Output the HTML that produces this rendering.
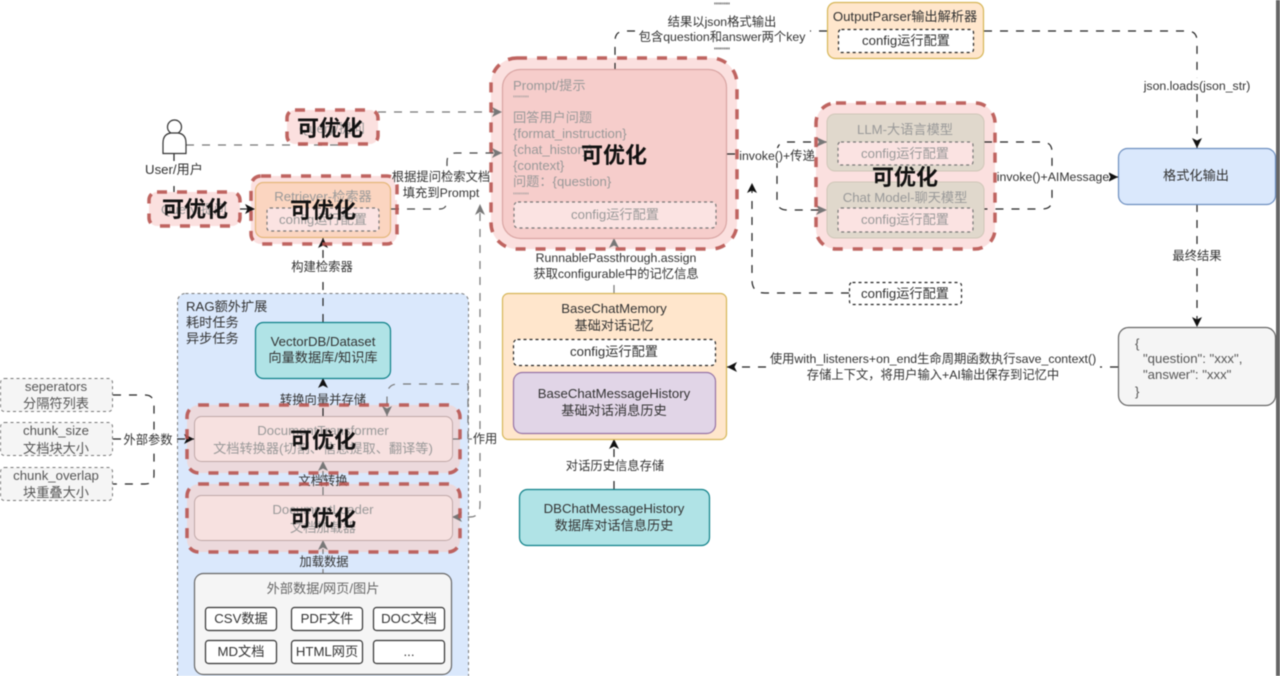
<!DOCTYPE html>
<html><head><meta charset="utf-8">
<style>
html,body{margin:0;padding:0;background:#fff;width:1280px;height:676px;overflow:hidden}
svg{display:block;filter:blur(.4px)}
text{font-family:"Liberation Sans","Noto Sans CJK SC",sans-serif;font-size:13.2px;fill:#333;text-anchor:middle}
text.t{font-size:12.3px}
.l{text-anchor:start}
.g{fill:#999}
text.big{font-size:22px;font-weight:bold;fill:#111}
.e{fill:none;stroke:#222;stroke-width:1.2;stroke-dasharray:8 8}
.eg{fill:none;stroke:#777;stroke-width:1.2;stroke-dasharray:8 8}
.c{fill:#fff;stroke:#222;stroke-width:1.2;stroke-dasharray:3 3}
.cp{fill:#fbe3e2;stroke:#777;stroke-width:1.2;stroke-dasharray:3 3}
.h{fill:none;stroke:#b85450;stroke-opacity:.9;stroke-width:3.5;stroke-dasharray:10 10}
.hf{fill:#fbe0df}
.lb{fill:#fff}
</style></head><body>
<svg width="1280" height="676" viewBox="0 0 1280 676" xmlns="http://www.w3.org/2000/svg">
<defs>
<marker id="a" markerUnits="userSpaceOnUse" markerWidth="11" markerHeight="11" refX="10" refY="5.500" orient="auto"><path d="M0,0.500L10,5.500L0,10.500L2.500,5.500Z" fill="#111"/></marker>
<marker id="b" markerUnits="userSpaceOnUse" markerWidth="11" markerHeight="11" refX="10" refY="5.500" orient="auto"><path d="M0,0.500L10,5.500L0,10.500L2.500,5.500Z" fill="#777"/></marker>
</defs>
<rect width="1280" height="676" fill="#fff"/>
<rect x="1276" y="0" width="4" height="676" fill="#666"/>

<!-- RAG group -->
<rect x="177.500" y="293.500" width="291" height="390" rx="8" fill="#dae8fc" stroke="#777" stroke-dasharray="3 3"/>
<text class="l" x="186" y="311">RAG额外扩展</text>
<text class="l" x="186" y="327">耗时任务</text>
<text class="l" x="186" y="343">异步任务</text>

<!-- highlight fills -->
<rect class="hf" x="491" y="58" width="246" height="191" rx="26"/>
<rect class="hf" x="816" y="103" width="179" height="146" rx="20"/>
<rect class="hf" x="251" y="176" width="146" height="68" rx="10"/>
<rect class="hf" x="287" y="110" width="91" height="34" rx="8"/>
<rect class="hf" x="149" y="192" width="91" height="34" rx="8"/>
<rect x="187" y="405" width="273" height="68" rx="12" fill="#ecd9dc"/>
<rect x="187" y="484" width="273" height="68" rx="12" fill="#ecd9dc"/>

<!-- connectors -->
<path class="e" d="M323,322V238" marker-end="url(#a)"/>
<path class="eg" d="M186,145H340"/>
<path class="eg" d="M378,112H502" marker-end="url(#b)"/>
<path class="e" d="M174,154V192"/>
<path class="e" d="M240,209H255" marker-end="url(#a)"/>
<path class="e" d="M391,209H440Q447,209 447,200V162Q447,153 456,153H502" style="stroke:#444" marker-end="url(#b)"/>
<path class="e" d="M323,416V378" marker-end="url(#a)"/>
<path class="eg" d="M323,495V461" marker-end="url(#b)"/>
<path class="eg" d="M323,573V540" marker-end="url(#b)"/>
<path class="e" d="M113,395H145Q154,395 154,405V475Q154,484 145,484H113"/>
<path class="e" d="M113,439H194" marker-end="url(#a)"/>
<path class="eg" d="M480,213V505Q480,517 470,517H452" marker-end="url(#b)"/>
<path d="M480,204l-5,11l5,-3l5,3Z" fill="#777"/>
<path class="eg" d="M452,439H480"/>
<path class="eg" d="M468,439V384H398Q387,384 387,396V416" marker-end="url(#b)"/>
<path class="eg" d="M614,293V238" marker-end="url(#b)"/>
<path class="e" d="M849,293H765Q752,293 752,280V183" marker-end="url(#a)"/>
<path class="e" d="M727,154H777"/>
<path class="e" d="M827,142H787Q777,142 777,152V200Q777,210 787,210H827"/>
<path d="M827,142l-11,-5l3,5l-3,5Z" fill="#777"/>
<path d="M827,210l-11,-5l3,5l-3,5Z" fill="#777"/>
<path class="e" d="M984,142H1042Q1052,142 1052,152V200Q1052,209 1042,209H984"/>
<path class="e" d="M1052,177H1118" marker-end="url(#a)"/>
<path class="e" d="M984,31H1187Q1197,31 1197,41V148" marker-end="url(#a)"/>
<path class="e" d="M827,31H625Q615,31 615,41V69"/>
<path class="e" d="M1197,204V327" marker-end="url(#a)"/>
<path class="e" d="M1118,367H727" marker-end="url(#a)"/>
<path class="e" d="M614,489V439" marker-end="url(#a)"/>

<!-- user -->
<circle cx="174.500" cy="127" r="7" fill="#fff" stroke="#333" stroke-width="1.200"/>
<path d="M163,153.500V143Q163,134 171,133H178Q186,134 186,143V153.500Z" fill="#fff" stroke="#333" stroke-width="1.200"/>
<rect class="lb" x="142" y="161" width="64" height="17"/>
<text x="174" y="174">User/用户</text>

<!-- Output parser -->
<rect x="827.500" y="2.500" width="156" height="56" rx="8" fill="#ffe6cc" stroke="#d6b656" stroke-width="1.200"/>
<text x="905" y="21">OutputParser输出解析器</text>
<rect class="c" x="838.500" y="29.500" width="135" height="23" rx="3"/>
<text x="906" y="45">config运行配置</text>

<!-- Prompt -->
<rect x="502.500" y="69.500" width="224" height="169" rx="18" fill="#f6cdcb" stroke="#d9a5a3" stroke-width="1.200"/>
<text class="l g" x="513" y="90">Prompt/提示</text>
<text class="l g" x="513" y="102" style="font-size:9px">"""""</text>
<text class="l g" x="513" y="122">回答用户问题</text>
<text class="l g" x="513" y="138">{format_instruction}</text>
<text class="l g" x="513" y="154">{chat_history}</text>
<text class="l g" x="513" y="170">{context}</text>
<text class="l g" x="513" y="186">问题：{question}</text>
<text class="l g" x="513" y="199" style="font-size:9px">"""""</text>
<rect class="cp" x="514" y="202" width="202" height="26" rx="4"/>
<text class="g" x="615" y="219">config运行配置</text>

<!-- LLM -->
<rect x="827" y="114" width="157" height="57" rx="8" fill="#e0d8cc" stroke="#cfc7b8"/>
<text class="g" x="905" y="134">LLM-大语言模型</text>
<rect class="cp" x="838" y="142" width="135" height="23" rx="3"/>
<text class="g" x="905" y="158">config运行配置</text>
<rect x="827" y="182" width="157" height="56" rx="8" fill="#e0d8cc" stroke="#cfc7b8"/>
<text class="g" x="905" y="202">Chat Model-聊天模型</text>
<rect class="cp" x="838" y="208" width="135" height="24" rx="3"/>
<text class="g" x="905" y="224">config运行配置</text>

<!-- Retriever -->
<rect x="255.500" y="182.500" width="135" height="55" rx="8" fill="#fbd5c0" stroke="#e5b77a" stroke-width="1.200"/>
<text class="g" x="323" y="201">Retriever-检索器</text>
<rect class="cp" x="267" y="208" width="112" height="23" rx="3"/>
<text class="g" x="323" y="224">config运行配置</text>

<!-- query boxes -->
<text class="g" x="332" y="133">Query/提问</text>
<text class="g" x="194" y="214">Query/提问</text>

<!-- VectorDB -->
<rect x="255.500" y="322.500" width="135" height="56" rx="8" fill="#b0e3e6" stroke="#0e8088" stroke-width="1.200"/>
<text x="323" y="346">VectorDB/Dataset</text>
<text x="323" y="362">向量数据库/知识库</text>

<!-- Doc boxes -->
<rect x="194.500" y="416.500" width="258" height="45" rx="7" fill="#f7e1e0" stroke="#c0a8a8"/>
<text class="g" x="323" y="435">DocumentTransformer</text>
<text class="g" x="323" y="453">文档转换器(切割、信息提取、翻译等)</text>
<rect x="194.500" y="495.500" width="258" height="45" rx="7" fill="#f7e1e0" stroke="#c0a8a8"/>
<text class="g" x="323" y="514">DocumentLoader</text>
<text class="g" x="323" y="532">文档加载器</text>

<!-- external -->
<rect x="194.500" y="573.500" width="257" height="101" rx="9" fill="#f5f5f5" stroke="#666" stroke-width="1.200"/>
<text x="323" y="593" style="fill:#666">外部数据/网页/图片</text>
<g fill="#fff" stroke="#333" stroke-width="1.200">
<rect x="205.500" y="607.500" width="71" height="23" rx="3"/>
<rect x="291.500" y="607.500" width="71" height="23" rx="3"/>
<rect x="373.500" y="607.500" width="71" height="23" rx="3"/>
<rect x="205.500" y="640.500" width="71" height="23" rx="3"/>
<rect x="291.500" y="640.500" width="71" height="23" rx="3"/>
<rect x="373.500" y="640.500" width="71" height="23" rx="3"/>
</g>
<text x="241" y="623">CSV数据</text>
<text x="327" y="623">PDF文件</text>
<text x="409" y="623">DOC文档</text>
<text x="241" y="656">MD文档</text>
<text x="327" y="656">HTML网页</text>
<text x="409" y="656">...</text>

<!-- left params -->
<g fill="#f5f5f5" stroke="#777" stroke-dasharray="3 3">
<rect x="0.500" y="378.500" width="112" height="33" rx="4"/>
<rect x="0.500" y="422.500" width="112" height="33" rx="4"/>
<rect x="0.500" y="467.500" width="112" height="33" rx="4"/>
</g>
<text x="56" y="391" style="fill:#555">seperators</text>
<text x="56" y="408" style="fill:#555">分隔符列表</text>
<text x="56" y="435" style="fill:#555">chunk_size</text>
<text x="56" y="453" style="fill:#555">文档块大小</text>
<text x="56" y="480" style="fill:#555">chunk_overlap</text>
<text x="56" y="497" style="fill:#555">块重叠大小</text>

<!-- Memory -->
<rect x="502.500" y="293.500" width="224" height="146" rx="6" fill="#ffe6cc" stroke="#d6b656" stroke-width="1.200"/>
<text x="614" y="313">BaseChatMemory</text>
<text x="614" y="330">基础对话记忆</text>
<rect class="c" x="513.500" y="339.500" width="202" height="26" rx="4"/>
<text x="614" y="356">config运行配置</text>
<rect x="513.500" y="372.500" width="202" height="61" rx="9" fill="#e1d5e7" stroke="#9673a6" stroke-width="1.200"/>
<text x="614" y="398">BaseChatMessageHistory</text>
<text x="614" y="415">基础对话消息历史</text>

<rect x="519.500" y="489.500" width="190" height="56" rx="8" fill="#b0e3e6" stroke="#0e8088" stroke-width="1.200"/>
<text x="614" y="513">DBChatMessageHistory</text>
<text x="614" y="530">数据库对话信息历史</text>

<!-- right boxes -->
<rect x="1118.500" y="148.500" width="157" height="56" rx="9" fill="#dae8fc" stroke="#6c8ebf" stroke-width="1.200"/>
<text x="1196" y="180">格式化输出</text>
<rect x="1118.500" y="327.500" width="157" height="78" rx="10" fill="#f5f5f5" stroke="#666" stroke-width="1.200"/>
<text class="l" x="1135" y="348" style="fill:#555">{</text>
<text class="l" x="1143" y="363" style="fill:#555">"question": "xxx",</text>
<text class="l" x="1143" y="379" style="fill:#555">"answer": "xxx"</text>
<text class="l" x="1135" y="396" style="fill:#555">}</text>

<!-- config dashed -->
<rect class="c" x="849.500" y="282.500" width="112" height="22" rx="3"/>
<text x="905" y="298">config运行配置</text>

<!-- edge labels -->
<rect class="lb" x="640" y="0" width="170" height="53"/>
<text class="t" x="722" y="9" style="font-size:9px">"""""</text>
<text class="t" x="722" y="26">结果以json格式输出</text>
<text class="t" x="722" y="41">包含question和answer两个key</text>
<text class="t" x="722" y="54" style="font-size:9px">"""""</text>
<rect class="lb" x="1142" y="78" width="110" height="16"/>
<text class="t" x="1197" y="90">json.loads(json_str)</text>
<rect class="lb" x="1170" y="247" width="54" height="16"/>
<text class="t" x="1197" y="260">最终结果</text>
<rect class="lb" x="395" y="168" width="94" height="32"/>
<text class="t" x="441" y="181">根据提问检索文档</text>
<text class="t" x="441" y="197">填充到Prompt</text>
<rect class="lb" x="290" y="259" width="66" height="15"/>
<text class="t" x="322" y="271">构建检索器</text>
<rect class="lb" x="534" y="251" width="166" height="30"/>
<text class="t" x="616" y="262">RunnablePassthrough.assign</text>
<text class="t" x="616" y="278">获取configurable中的记忆信息</text>
<rect class="lb" x="740" y="148" width="76" height="15"/>
<text class="t" x="777" y="160">invoke()+传递</text>
<rect class="lb" x="997" y="170" width="112" height="15"/>
<text class="t" x="1053" y="181">invoke()+AIMessage</text>
<rect class="lb" x="768" y="352" width="332" height="31"/>
<text class="t" x="933" y="363">使用with_listeners+on_end生命周期函数执行save_context()</text>
<text class="t" x="933" y="379">存储上下文，将用户输入+AI输出保存到记忆中</text>
<rect class="lb" x="562" y="458" width="106" height="16"/>
<text class="t" x="615" y="470">对话历史信息存储</text>
<rect x="122" y="432" width="52" height="15" fill="#fff"/>
<text class="t" x="148" y="444">外部参数</text>
<rect class="lb" x="472" y="432" width="26" height="15"/>
<text class="t" x="485" y="443">作用</text>
<rect x="281" y="392" width="85" height="11" fill="#dae8fc"/>
<text class="t" x="323" y="404">转换向量并存储</text>
<text class="t" x="323" y="485">文档转换</text>
<rect x="297" y="554" width="54" height="15" fill="#dae8fc"/>
<text class="t" x="324" y="566">加载数据</text>

<!-- highlight dashed -->
<rect class="h" x="491" y="58" width="246" height="191" rx="26"/>
<rect class="h" x="816" y="103" width="179" height="146" rx="20"/>
<rect class="h" x="251" y="176" width="146" height="68" rx="10"/>
<rect class="h" x="287" y="110" width="91" height="34" rx="8"/>
<rect class="h" x="149" y="192" width="91" height="34" rx="8"/>
<rect class="h" x="187" y="405" width="273" height="68" rx="12"/>
<rect class="h" x="187" y="484" width="273" height="68" rx="12"/>

<!-- big labels -->
<text class="big" x="330" y="136">可优化</text>
<text class="big" x="195" y="217">可优化</text>
<text class="big" x="323" y="218">可优化</text>
<text class="big" x="614" y="163">可优化</text>
<text class="big" x="905" y="185">可优化</text>
<text class="big" x="323" y="448">可优化</text>
<text class="big" x="323" y="526">可优化</text>
</svg>
</body></html>
